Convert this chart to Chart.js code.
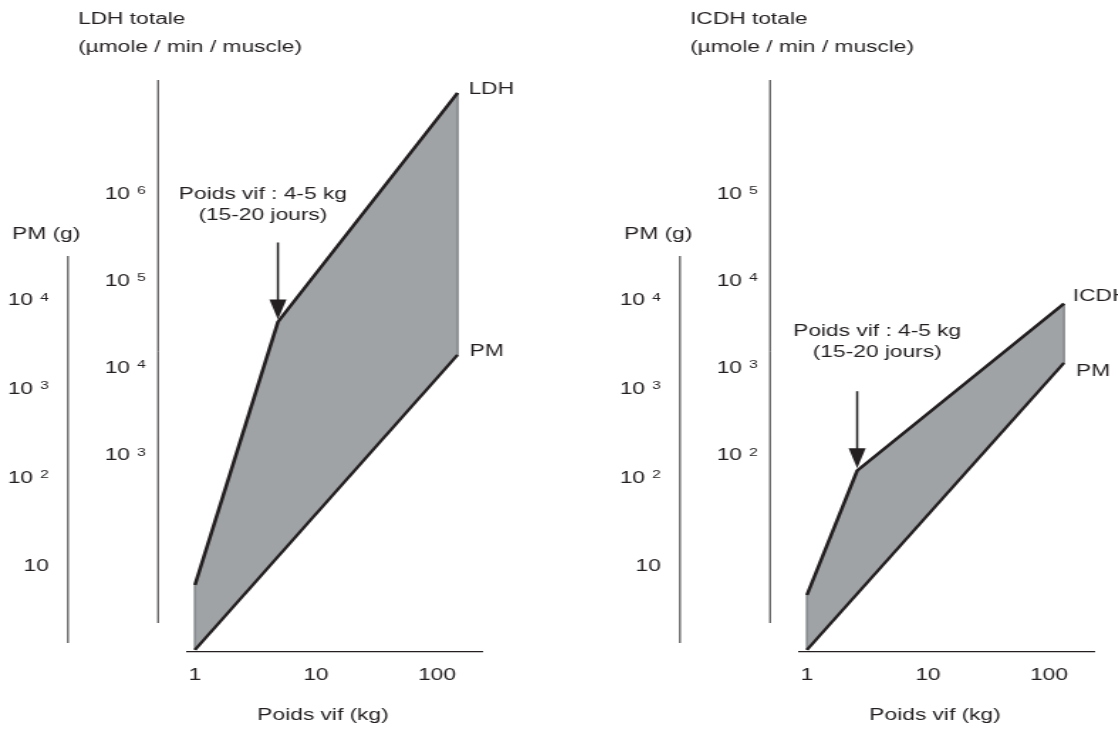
<!DOCTYPE html>
<html lang="fr">
<head>
<meta charset="UTF-8">
<title>LDH et ICDH totales selon le poids vif</title>
<script src="https://cdn.jsdelivr.net/npm/chart.js"></script>
<style>
    html, body { margin: 0; padding: 0; background: #ffffff; overflow: hidden; }
    #wrap { position: relative; width: 1118px; height: 730px; overflow: hidden; background: #ffffff; }
    #wrap canvas { position: absolute; top: 0; }
</style>
</head>
<body>
<div id="wrap">
    <!-- the original figure is stretched sideways, so each canvas is drawn narrow and widened by CSS -->
    <canvas id="ldhChart" width="430" height="730" style="left:0px;width:611px;height:730px"></canvas>
    <canvas id="icdhChart" width="430" height="730" style="left:612px;width:611px;height:730px"></canvas>
</div>
<script>
// --- data ---
const xTickValues = [1, 10, 100];
const xTickLabels = ['1', '10', '100'];

const pmTickValues = [10, 100, 1000, 10000];
const pmTickLabels = ['10', '10 \u00B2', '10 \u00B3', '10 \u2074'];

const ldhTickValues = [1e3, 1e4, 1e5, 1e6];
const ldhTickLabels = ['10 \u00B3', '10 \u2074', '10 \u2075', '10 \u2076'];

const icdhTickValues = [1e2, 1e3, 1e4, 1e5];
const icdhTickLabels = ['10 \u00B2', '10 \u00B3', '10 \u2074', '10 \u2075'];

// LDH panel (poids vif kg -> LDH totale, PM g)
const ldhPoidsVif = [1, 4.85, 148];
const ldhTotale = [32, 33800, 1.45e7];
const ldhPmPoidsVif = [1, 148];
const ldhPmGrammes = [1.13, 2400];

// ICDH panel
const icdhPoidsVif = [1, 2.6, 133];
const icdhTotale = [2.46, 66, 5480];
const icdhPmPoidsVif = [1, 133];
const icdhPmGrammes = [1.13, 1950];

// --- styling ---
const FONT = "'Liberation Sans', Arial, Helvetica, sans-serif";
const INK = '#231f20';
const tickFont = { family: FONT, size: 16 };
const SUP = { '\u00B2': '2', '\u00B3': '3', '\u2074': '4', '\u2075': '5', '\u2076': '6' };

function pts(xs, ys) {
    return xs.map((x, i) => ({ x: x, y: ys[i] }));
}

const decor = {
    id: 'decor',
    beforeDatasetsDraw(chart) {
        // grey vertical edges of the shaded band
        const ctx = chart.ctx;
        const up = chart.getDatasetMeta(0).data;
        const low = chart.getDatasetMeta(1).data;
        ctx.save();
        ctx.strokeStyle = '#898c8f';
        ctx.lineWidth = 1.7;
        [[up[0], low[0]], [up[up.length - 1], low[low.length - 1]]].forEach(function (pair) {
            ctx.beginPath();
            ctx.moveTo(pair[0].x, pair[0].y);
            ctx.lineTo(pair[1].x, pair[1].y);
            ctx.stroke();
        });
        ctx.restore();
    },
    afterDraw(chart, args, o) {
        const ctx = chart.ctx;
        const area = chart.chartArea;
        ctx.save();
        ctx.fillStyle = INK;
        ctx.strokeStyle = INK;
        ctx.font = '16px ' + FONT;
        ctx.textBaseline = 'middle';

        function seg(x1, y1, x2, y2) {
            ctx.beginPath();
            ctx.moveTo(x1, y1);
            ctx.lineTo(x2, y2);
            ctx.stroke();
        }

        // y tick labels "10" with a raised exponent
        o.yLabels.forEach(function (ax) {
            const scale = chart.scales[ax.id];
            const xr = scale.right - ax.pad;
            scale.ticks.forEach(function (t, i) {
                const parts = ax.labels[i].split(' ');
                const y = scale.getPixelForValue(t.value);
                let baseRight = xr;
                if (parts.length > 1) {
                    const exp = SUP[parts[1]] || parts[1];
                    ctx.font = '11px ' + FONT;
                    ctx.textAlign = 'right';
                    ctx.textBaseline = 'alphabetic';
                    ctx.fillText(exp, xr, y + 0.5);
                    baseRight = xr - ctx.measureText(exp).width - 5;
                }
                ctx.font = '16px ' + FONT;
                ctx.textAlign = 'right';
                ctx.textBaseline = 'middle';
                ctx.fillText(parts[0], baseRight, y + 1);
            });
        });

        // the two vertical axes
        const innerX = area.left - 20.4;
        const outerX = chart.scales.yPM.right;
        ctx.lineWidth = 0.95;
        seg(innerX, 80, innerX, 623);
        seg(outerX, 256, outerX, 643);

        // axis titles
        ctx.textAlign = 'left';
        o.enzTitle.forEach(function (t, i) { ctx.fillText(t, innerX - 56.3, 20 + i * 28); });
        ctx.fillText('PM (g)', outerX - 39.4, 235);
        ctx.textAlign = 'center';
        ctx.fillText('Poids vif (kg)', (area.left + area.right) / 2 - 8.4, 716);

        // arrow to the break point
        const brk = chart.getDatasetMeta(0).data[1];
        const tipY = brk.y - 2.5;
        const topY = tipY - 77;
        ctx.lineWidth = 1.5;
        seg(brk.x, topY, brk.x, tipY - 16);
        ctx.beginPath();
        ctx.moveTo(brk.x - 6, tipY - 20);
        ctx.lineTo(brk.x + 6, tipY - 20);
        ctx.lineTo(brk.x, tipY);
        ctx.closePath();
        ctx.fill();
        o.note.forEach(function (t, i) {
            ctx.fillText(t, brk.x + o.noteDx, brk.y + o.noteDy + i * 21);
        });

        // labels at the line ends
        ctx.textAlign = 'left';
        const upPts = chart.getDatasetMeta(0).data;
        const lowPts = chart.getDatasetMeta(1).data;
        const a = upPts[upPts.length - 1];
        const b = lowPts[lowPts.length - 1];
        ctx.fillText(o.enzName, a.x + o.enzLabel[0], a.y + o.enzLabel[1]);
        ctx.fillText('PM', b.x + o.pmLabel[0], b.y + o.pmLabel[1]);
        ctx.restore();
    }
};

function logAxis(values, min, max, width, weight) {
    return {
        type: 'logarithmic',
        position: 'left',
        weight: weight,
        min: min,
        max: max,
        bounds: 'data',
        grid: { display: false, drawTicks: false },
        border: { display: false },
        afterBuildTicks: function (s) { s.ticks = values.map(function (v) { return { value: v }; }); },
        afterFit: function (s) { s.width = width; },
        ticks: { display: false }
    };
}

function buildPanel(id, p) {
    return new Chart(document.getElementById(id), {
        type: 'line',
        data: {
            datasets: [
                {
                    label: p.enzName,
                    data: pts(p.enzX, p.enzY),
                    yAxisID: 'yEnz',
                    borderColor: INK,
                    borderWidth: 2.6,
                    backgroundColor: '#a0a3a6',
                    fill: 1
                },
                {
                    label: 'PM',
                    data: pts(p.pmX, p.pmY),
                    yAxisID: 'yPM',
                    borderColor: INK,
                    borderWidth: 2.4,
                    fill: false
                }
            ]
        },
        options: {
            responsive: false,
            animation: false,
            events: [],
            layout: { padding: { left: 0, right: 90.1, top: 70, bottom: 0 } },
            elements: {
                point: { radius: 0, hoverRadius: 0 },
                line: { tension: 0, borderJoinStyle: 'miter', borderCapStyle: 'butt' }
            },
            scales: {
                x: {
                    type: 'logarithmic',
                    min: 0.86,
                    max: 240,
                    bounds: 'data',
                    grid: { display: false, drawTicks: false },
                    border: { color: INK, width: 1.3 },
                    afterBuildTicks: function (s) { s.ticks = xTickValues.map(function (v) { return { value: v }; }); },
                    afterFit: function (s) { s.height = 78; },
                    ticks: {
                        callback: function (v, i) { return xTickLabels[i]; },
                        padding: 14,
                        autoSkip: false,
                        maxRotation: 0,
                        color: INK,
                        font: tickFont
                    }
                },
                yEnz: logAxis(p.enzTicks, p.enzMin, p.enzMax, 83.75, 0),
                yPM: logAxis(pmTickValues, 1.072, 3.93e6, 47.86, 10)
            },
            plugins: {
                legend: { display: false },
                tooltip: { enabled: false },
                filler: { drawTime: 'beforeDatasetsDraw' },
                decor: {
                    enzName: p.enzName,
                    enzTitle: p.enzTitle,
                    yLabels: [
                        { id: 'yEnz', labels: p.enzTickLabels, pad: 29 },
                        { id: 'yPM', labels: pmTickLabels, pad: 13.5 }
                    ],
                    note: ['Poids vif : 4-5 kg', '(15-20 jours)'],
                    noteDx: p.noteDx,
                    noteDy: p.noteDy,
                    enzLabel: p.enzLabel,
                    pmLabel: p.pmLabel
                }
            }
        },
        plugins: [decor]
    });
}

buildPanel('ldhChart', {
    enzName: 'LDH',
    enzTitle: ['LDH totale', '(\u00B5mole / min / muscle)'],
    enzX: ldhPoidsVif, enzY: ldhTotale,
    pmX: ldhPmPoidsVif, pmY: ldhPmGrammes,
    enzTicks: ldhTickValues, enzTickLabels: ldhTickLabels,
    enzMin: 5.445, enzMax: 2.66e7,
    noteDx: -10.6, noteDy: -127,
    enzLabel: [7.7, -3], pmLabel: [8.5, -3]
});

buildPanel('icdhChart', {
    enzName: 'ICDH',
    enzTitle: ['ICDH totale', '(\u00B5mole / min / muscle)'],
    enzX: icdhPoidsVif, enzY: icdhTotale,
    pmX: icdhPmPoidsVif, pmY: icdhPmGrammes,
    enzTicks: icdhTickValues, enzTickLabels: icdhTickLabels,
    enzMin: 0.5445, enzMax: 2.66e6,
    noteDx: 14.1, noteDy: -139,
    enzLabel: [6.3, -7], pmLabel: [8.5, 9]
});
</script>
</body>
</html>
